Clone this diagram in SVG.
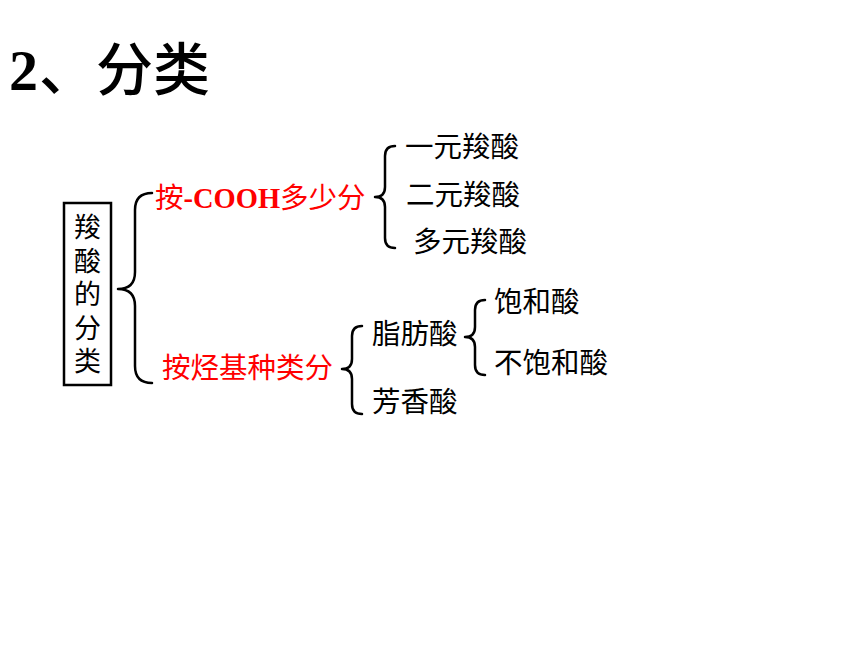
<svg xmlns="http://www.w3.org/2000/svg" width="860" height="645" viewBox="0 0 860 645">
<style>
.t{font-family:"Noto Sans CJK SC","Noto Sans",sans-serif;font-size:28.5px;fill:#000}
.v{font-family:"Noto Sans CJK SC","Noto Sans",sans-serif;font-size:27px;fill:#000}
.r{font-family:"Noto Sans CJK SC","Noto Sans",sans-serif;font-size:28.5px;fill:#ff0000}
.rb{font-family:"Liberation Serif",serif;font-weight:bold}
.br{fill:none;stroke:#000;stroke-width:2.5;stroke-linecap:round;stroke-linejoin:round}
</style>
<rect width="860" height="645" fill="#fff"/>
<g id="title">
<text x="9" y="90" font-family="Liberation Serif,serif" font-weight="bold" font-size="58" fill="#000">2</text>
<text x="39" y="90" font-family="Noto Sans CJK SC,sans-serif" font-weight="500" font-size="57" fill="#000">、分类</text>
</g>
<g id="root">
<rect x="64" y="203" width="47" height="182" fill="#fff" stroke="#000" stroke-width="2.5"/>
<text class="v" x="87.5" y="237" text-anchor="middle">羧</text>
<text class="v" x="87.5" y="271" text-anchor="middle">酸</text>
<text class="v" x="87.5" y="304" text-anchor="middle">的</text>
<text class="v" x="87.5" y="338" text-anchor="middle">分</text>
<text class="v" x="87.5" y="371" text-anchor="middle">类</text>
</g>
<g id="connectors">
<path class="br" d="M152,193 Q135,193 135,210 L135,272 Q135,289 118,289 Q135,289 135,306 L135,366 Q135,383 152,383"/>
<path class="br" d="M395,146 Q385,146 385,156 L385,187 Q385,197 375,197 Q385,197 385,207 L385,238 Q385,248 395,248"/>
<path class="br" d="M362,326 Q352,326 352,336 L352,359 Q352,369 342,369 Q352,369 352,379 L352,404 Q352,414 362,414"/>
<path class="br" d="M485,300 Q475,300 475,310 L475,327 Q475,337 465,337 Q475,337 475,347 L475,365 Q475,375 485,375"/>
</g>
<g id="n-cooh"><text class="r" x="155" y="208">按<tspan class="rb" font-size="28.5">-COOH</tspan>多少分</text></g>
<g id="n-ting"><text class="r" x="162" y="378">按烃基种类分</text></g>
<g id="n-yiyuan"><text class="t" x="405" y="157">一元羧酸</text></g>
<g id="n-eryuan"><text class="t" x="406" y="205">二元羧酸</text></g>
<g id="n-duoyuan"><text class="t" x="413" y="252">多元羧酸</text></g>
<g id="n-zhifang"><text class="t" x="372" y="344">脂肪酸</text></g>
<g id="n-fangxiang"><text class="t" x="372" y="412">芳香酸</text></g>
<g id="n-baohe"><text class="t" x="494" y="312">饱和酸</text></g>
<g id="n-buhe"><text class="t" x="494" y="373">不饱和酸</text></g>
</svg>
